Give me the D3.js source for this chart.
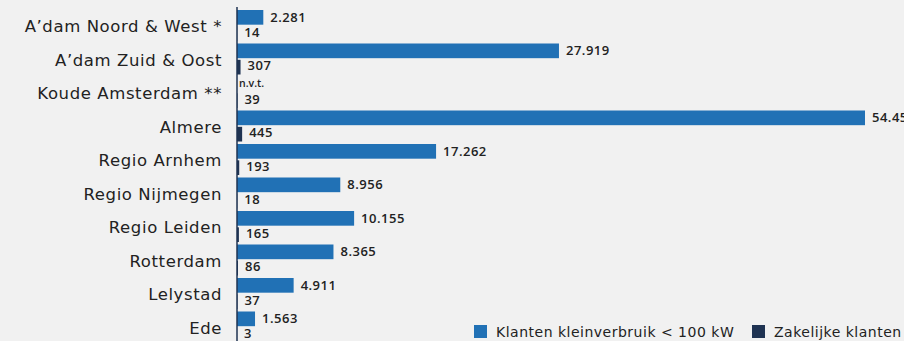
<!DOCTYPE html>
<html>
<head>
<meta charset="utf-8">
<script src="https://cdn.jsdelivr.net/npm/d3@7"></script>
<style>
  html, body { margin: 0; padding: 0; background: #f1f1f1; }
  svg { display: block; }
</style>
</head>
<body>
<svg id="chart" width="904" height="341"></svg>
<script>
// Regions and customer counts per region
const categories = [
  "A\u2019dam Noord & West *", "A\u2019dam Zuid & Oost", "Koude Amsterdam **", "Almere",
  "Regio Arnhem", "Regio Nijmegen", "Regio Leiden", "Rotterdam", "Lelystad", "Ede"
];
// Small consumers (< 100 kW); null means not applicable (n.v.t.)
const kleinverbruik = [2281, 27919, null, 54456, 17262, 8956, 10155, 8365, 4911, 1563];
// Business customers
const zakelijk = [14, 307, 39, 445, 193, 18, 165, 86, 37, 3];
const seriesNames = ["Klanten kleinverbruik < 100 kW", "Zakelijke klanten"];
const colors = ["#2171b5", "#1f3352"];

const W = 904, H = 341;
const x0 = 237;
const FONT = "'DejaVu Sans', sans-serif";
const VALFONT = "'Open Sans', 'DejaVu Sans', sans-serif";
const svg = d3.select("#chart");
const fmt = v => d3.formatLocale({decimal: ",", thousands: ".", grouping: [3]}).format(",")(v);

const x = d3.scaleLinear().domain([0, 54456]).range([x0, 865]);
const y = d3.scaleBand().domain(categories).range([10, 10 + 33.5 * categories.length]).padding(0);
const ySub = d3.scaleBand().domain([0, 1]).range([0, 31]).paddingInner(0.1);

const rows = categories.map((c, i) => ({ c, vals: [kleinverbruik[i], zakelijk[i]] }));

const g = svg.append("g");
const row = g.selectAll("g.row").data(rows).join("g")
  .attr("transform", d => `translate(0,${y(d.c)})`);

row.selectAll("rect").data(d => d.vals.map((v, k) => ({ v, k })).filter(e => e.v != null))
  .join("rect")
  .attr("x", x0)
  .attr("y", e => ySub(e.k))
  .attr("width", e => x(e.v) - x0)
  .attr("height", ySub.bandwidth())
  .attr("fill", e => colors[e.k]);

row.selectAll("text.val").data(d => d.vals.map((v, k) => ({ v, k })))
  .join("text")
  .attr("class", "val")
  .attr("x", e => e.v == null ? x0 + 2 : x(e.v) + 7)
  .attr("y", e => ySub(e.k) + ySub.bandwidth() / 2 + (e.v == null ? -1 : (e.k === 1 ? -1.5 : 0)))
  .attr("dy", "0.35em")
  .attr("font-family", VALFONT)
  .attr("font-weight", 600)
  .attr("font-size", e => e.v == null ? "10.5px" : "13px")
  .attr("letter-spacing", e => e.v == null ? "0px" : "0.5px")
  .attr("fill", "#222")
  .text(e => e.v == null ? "n.v.t." : fmt(e.v));

// Category axis
const yAxis = d3.axisLeft(y).tickSize(0).tickPadding(15);
const ax = svg.append("g").attr("transform", `translate(${x0},0)`).call(yAxis);
ax.select(".domain").remove();
ax.selectAll("text")
  .attr("font-family", FONT)
  .attr("font-size", "16.5px")
  .attr("letter-spacing", "0.6px")
  .attr("fill", "#222");

svg.append("line")
  .attr("x1", x0).attr("x2", x0)
  .attr("y1", 7).attr("y2", H)
  .attr("stroke", "#1f3352").attr("stroke-width", 1.5);

// Legend
const legendX = [474, 752];
const lg = svg.append("g").selectAll("g").data(seriesNames).join("g")
  .attr("transform", (d, i) => `translate(${legendX[i]},325)`);
lg.append("rect").attr("width", 13).attr("height", 13).attr("fill", (d, i) => colors[i]);
lg.append("text")
  .attr("x", 22).attr("y", 7).attr("dy", "0.35em")
  .attr("font-family", FONT)
  .attr("font-size", "14px")
  .attr("letter-spacing", "0.5px")
  .attr("fill", "#222")
  .text(d => d);
</script>
</body>
</html>
